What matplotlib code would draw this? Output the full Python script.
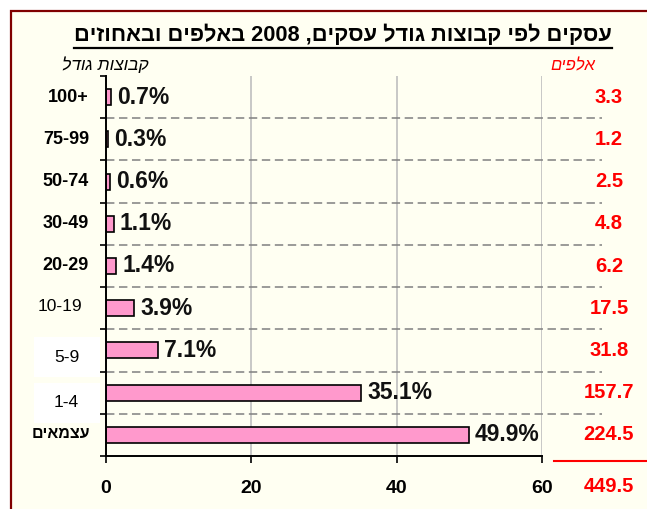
import re
import matplotlib
matplotlib.use('Agg')
import matplotlib.pyplot as plt
from matplotlib.patches import Rectangle
from matplotlib.lines import Line2D
from matplotlib.transforms import blended_transform_factory

# ---------------- data ----------------
categories = ['עצמאים', '1-4', '5-9', '10-19', '20-29', '30-49', '50-74', '75-99', '100+']
percent = [49.9, 35.1, 7.1, 3.9, 1.4, 1.1, 0.6, 0.3, 0.7]
thousands = [224.5, 157.7, 31.8, 17.5, 6.2, 4.8, 2.5, 1.2, 3.3]
total_thousands = 449.5
xticks = [0, 20, 40, 60]
title = 'עסקים לפי קבוצות גודל עסקים, 2008 באלפים ובאחוזים'
left_header = 'קבוצות גודל'
right_header = 'אלפים'

FONT = ['Liberation Sans', 'DejaVu Sans']
plt.rcParams['font.family'] = FONT


def vis(s):
    """Convert logical-order Hebrew text to visual order for LTR rendering."""
    r = s[::-1]
    return re.sub(r'[0-9]+', lambda m: m.group(0)[::-1], r)


W, H = 647, 509
fig = plt.figure(figsize=(W / 100, H / 100), dpi=100, facecolor='white')


def fx(px):
    return px / W


def fy(py):
    return 1 - py / H


# framed ivory background
bg = Rectangle((fx(11), -0.2), 1.3, fy(11) + 0.2, transform=fig.transFigure,
               facecolor='#FFFFF2', edgecolor='#800000', linewidth=1.6, zorder=0)
fig.add_artist(bg)

# white boxes behind two labels
for (x0, y0, x1, y1) in [(34, 337, 100, 377), (34, 383, 100, 423)]:
    fig.add_artist(Rectangle((fx(x0), fy(y1)), fx(x1) - fx(x0), fy(y0) - fy(y1),
                             transform=fig.transFigure, facecolor='white',
                             edgecolor='none', zorder=1))

ax_left, ax_right, ax_top, ax_bot = 106, 542, 76, 456
ax = fig.add_axes([fx(ax_left), fy(ax_bot), fx(ax_right) - fx(ax_left), fy(ax_top) - fy(ax_bot)])
ax.set_facecolor('none')
ax.set_zorder(2)

ypos = list(range(len(categories)))
ax.barh(ypos, percent, height=0.38, color='#FF99CC', edgecolor='black',
        linewidth=1.2, zorder=3)

ax.set_xlim(0, 60)
ax.set_ylim(-0.5, len(categories) - 0.5)

# gridlines
ax.set_xticks(xticks)
ax.set_xticklabels([str(t) for t in xticks], fontsize=14, fontweight='bold')
ax.xaxis.grid(True, color='#BFBFBF', linewidth=1.2, zorder=1)
ax.set_axisbelow(True)
ax.tick_params(axis='x', direction='out', length=5, width=1.2, pad=12)

ax.set_yticks([i - 0.5 for i in range(len(categories) + 1)])
ax.set_yticklabels([])
ax.tick_params(axis='y', direction='out', length=4.3, width=1.2)

for s in ['top', 'right']:
    ax.spines[s].set_visible(False)
for s in ['left', 'bottom']:
    ax.spines[s].set_linewidth(1.4)
    ax.spines[s].set_zorder(4)

# dashed separators extending beyond the plot
for i in range(len(categories) - 1):
    ax.axhline(i + 0.5, xmin=0, xmax=(602 - ax_left) / (ax_right - ax_left),
               color='#808080', linewidth=1.1, dashes=(5.5, 3), clip_on=False, zorder=2)

# percentage labels
for i, v in enumerate(percent):
    ax.annotate(f'{v:.1f}%', xy=(v, i), xytext=(6, 0), textcoords='offset pixels',
                ha='left', va='center', fontsize=16.5, fontweight='bold', color='#111111',
                zorder=5)

# category labels
label_style = {
    'עצמאים': dict(dx=-16, dy=1, ha='right', weight='bold', size=11.5),
    '1-4': dict(dx=-39.5, dy=-10, ha='center', weight='normal', size=12.5),
    '5-9': dict(dx=-39.5, dy=-7.5, ha='center', weight='normal', size=12.5),
    '10-19': dict(dx=-24, dy=2, ha='right', weight='normal', size=12.5),
}
for i, c in enumerate(categories):
    st = label_style.get(c, dict(dx=-17, dy=0, ha='right', weight='bold', size=13))
    txt = vis(c) if re.search('[\u0590-\u05FF]', c) else c
    ax.annotate(txt, xy=(0, i), xytext=(st['dx'], st['dy']), textcoords='offset pixels',
                ha=st['ha'], va='center', fontsize=st['size'], fontweight=st['weight'],
                color='black', annotation_clip=False)

# values in thousands (right column)
tr = blended_transform_factory(ax.transAxes, ax.transData)
xcol = (609 - ax_left) / (ax_right - ax_left)
for i, v in enumerate(thousands):
    ax.text(xcol, i, f'{v:.1f}', transform=tr, ha='center', va='center',
            fontsize=14.5, fontweight='bold', color='#FF0000', clip_on=False)

ax_h = ax_bot - ax_top
ax.text(xcol, (ax_bot - 487) / ax_h, f'{total_thousands:.1f}', transform=ax.transAxes,
        ha='center', va='center', fontsize=14.5, fontweight='bold', color='#FF0000',
        clip_on=False)
ax.add_line(Line2D([(554 - ax_left) / (ax_right - ax_left), (650 - ax_left) / (ax_right - ax_left)],
                   [(ax_bot - 461) / ax_h] * 2, transform=ax.transAxes, color='#FF0000',
                   linewidth=1.5, clip_on=False))

# headers
fig.text(fx(105), fy(65), vis(left_header), ha='center', va='center', fontsize=12.5,
         style='italic', color='black')
fig.text(fx(573), fy(66), vis(right_header), ha='center', va='center', fontsize=12,
         style='italic', color='#FF0000')

# title with underline
fig.text(fx(343), fy(35.5), vis(title), ha='center', va='center', fontsize=15.7,
         fontweight='bold', color='black')
fig.add_artist(Line2D([fx(74), fx(612)], [fy(47.5), fy(47.5)], transform=fig.transFigure,
                      color='black', linewidth=1.6))

fig.savefig('out.png', dpi=100, facecolor='white')
